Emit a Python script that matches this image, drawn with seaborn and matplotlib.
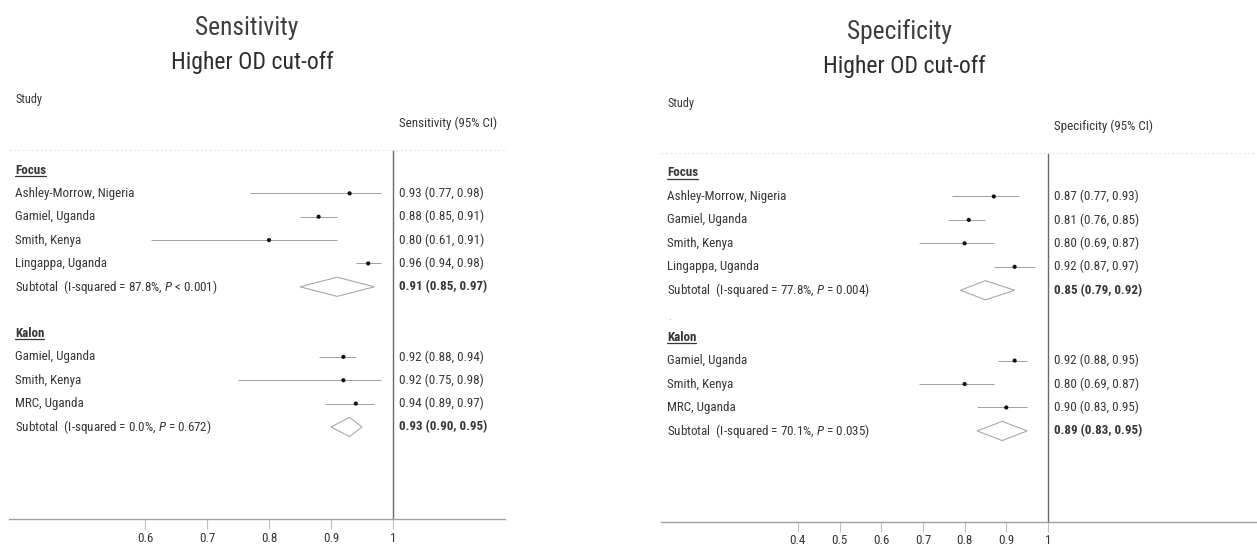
import numpy as np
import pandas as pd
import seaborn as sns
import matplotlib
matplotlib.use("Agg")
import matplotlib.pyplot as plt
from matplotlib import font_manager
from matplotlib.transforms import blended_transform_factory
from matplotlib.lines import Line2D

# ---- data -------------------------------------------------------------
focus_studies = ["Ashley-Morrow, Nigeria", "Gamiel, Uganda", "Smith, Kenya", "Lingappa, Uganda"]
kalon_studies = ["Gamiel, Uganda", "Smith, Kenya", "MRC, Uganda"]

sens_focus_est = [0.93, 0.88, 0.80, 0.96]
sens_focus_lo = [0.77, 0.85, 0.61, 0.94]
sens_focus_hi = [0.98, 0.91, 0.91, 0.98]
sens_focus_sub = [0.91, 0.85, 0.97]
sens_focus_het = ["87.8%", "< 0.001"]

sens_kalon_est = [0.92, 0.92, 0.94]
sens_kalon_lo = [0.88, 0.75, 0.89]
sens_kalon_hi = [0.94, 0.98, 0.97]
sens_kalon_sub = [0.93, 0.90, 0.95]
sens_kalon_het = ["0.0%", "= 0.672"]

spec_focus_est = [0.87, 0.81, 0.80, 0.92]
spec_focus_lo = [0.77, 0.76, 0.69, 0.87]
spec_focus_hi = [0.93, 0.85, 0.87, 0.97]
spec_focus_sub = [0.85, 0.79, 0.92]
spec_focus_het = ["77.8%", "= 0.004"]

spec_kalon_est = [0.92, 0.80, 0.90]
spec_kalon_lo = [0.88, 0.69, 0.83]
spec_kalon_hi = [0.95, 0.87, 0.95]
spec_kalon_sub = [0.89, 0.83, 0.95]
spec_kalon_het = ["70.1%", "= 0.035"]

sens_ticks = [0.6, 0.7, 0.8, 0.9, 1]
spec_ticks = [0.4, 0.5, 0.6, 0.7, 0.8, 0.9, 1]
# -----------------------------------------------------------------------

sns.set_theme(style="white")
installed = {f.name for f in font_manager.fontManager.ttflist}
FONT = "Roboto Condensed" if "Roboto Condensed" in installed else "Liberation Sans"
plt.rcParams["font.family"] = [FONT, "DejaVu Sans"]
plt.rcParams["mathtext.fontset"] = "custom"
plt.rcParams["mathtext.rm"] = FONT
plt.rcParams["mathtext.it"] = FONT + ":italic"
plt.rcParams["mathtext.bf"] = FONT + ":bold"

W, H = 1257, 548
fig = plt.figure(figsize=(W / 100, H / 100), dpi=100)
renderer = fig.canvas.get_renderer()


def fit_size(text, target_px, **kw):
    """Font size (pt) at which `text` spans `target_px` pixels."""
    t = fig.text(0, 0, text, fontsize=10, **kw)
    w = t.get_window_extent(renderer).width
    t.remove()
    return 10 * target_px / w


FS = fit_size("Ashley-Morrow, Nigeria", 118.5)
FS_T1 = fit_size("Sensitivity", 102)
FS_T2 = fit_size("Higher OD cut-off", 162.5)

TXT = "#363636"
LINE = "#a0a0a0"


def fx(x):
    return x / W


def fy(y):
    return 1 - y / H


def build_rows(groups):
    recs = []
    row = 0
    for gname, studies, est, lo, hi, sub, het in groups:
        recs.append(dict(kind="head", label=gname, row=row))
        row += 1
        for s, e, l, h in zip(studies, est, lo, hi):
            recs.append(dict(kind="study", label=s, row=row, est=e, lo=l, hi=h))
            row += 1
        recs.append(dict(kind="sub", label=f"Subtotal  (I-squared = {het[0]}, $P$ {het[1]})",
                         row=row, est=sub[0], lo=sub[1], hi=sub[2]))
        row += 2
    return pd.DataFrame(recs)


def forest(df, lay, ticks, title, col_head, dot_row=False):
    left, right, top, bottom = lay["box"]
    x1, ppu = lay["x1"], lay["ppu"]
    row0, step = lay["row0"], lay["step"]
    ax = fig.add_axes([fx(left), fy(bottom), fx(right - left), (bottom - top) / H])

    studies = df[df.kind == "study"]
    subs = df[df.kind == "sub"]

    ax.hlines(studies.row, studies.lo, studies.hi, color=LINE, lw=0.7, zorder=2)
    sns.scatterplot(data=studies, x="est", y="row", ax=ax, marker="o", s=9,
                    color="#111111", edgecolor="none", legend=False, zorder=3)
    hh = 0.41
    for _, r in subs.iterrows():
        ax.fill([r.lo, r.est, r.hi, r.est], [r.row, r.row - hh, r.row, r.row + hh],
                facecolor="none", edgecolor="#a8a8a8", lw=0.8, zorder=2)

    ax.axvline(1, color="#6a6a6a", lw=1.0, zorder=1)
    ax.set_xlim(1 - (x1 - left) / ppu, 1 + (right - x1) / ppu)
    ax.set_ylim((bottom - row0) / step, (top - row0) / step)
    ax.axhline((top - row0) / step + 0.02, color="#e6e6e6", lw=0.8, ls=(0, (2, 2)))

    for sp in ["left", "right", "top"]:
        ax.spines[sp].set_visible(False)
    ax.spines["bottom"].set_color("#a0a0a0")
    ax.spines["bottom"].set_linewidth(1.0)
    ax.set_xticks(ticks)
    ax.set_xticklabels([f"{t:g}" for t in ticks])
    ax.set_yticks([])
    ax.set_xlabel("")
    ax.set_ylabel("")
    ax.tick_params(axis="x", bottom=True, length=7, width=0.8, color="#c0c0c0",
                   labelsize=FS, labelcolor=TXT, pad=2)

    tr = blended_transform_factory(fig.transFigure, ax.transData)
    heads = []
    for _, r in df.iterrows():
        if r.kind == "head":
            t = ax.text(fx(lay["lab_x"]), r.row, r.label, transform=tr, fontsize=FS,
                        fontweight="bold", color=TXT, va="center", ha="left", clip_on=False)
            heads.append(t)
        else:
            ax.text(fx(lay["lab_x"]), r.row, r.label, transform=tr, fontsize=FS,
                    color=TXT, va="center", ha="left", clip_on=False)
            val = f"{r.est:.2f} ({r.lo:.2f}, {r.hi:.2f})"
            ax.text(fx(lay["val_x"]), r.row, val, transform=tr, fontsize=FS, color=TXT,
                    fontweight="bold" if r.kind == "sub" else "normal",
                    va="center", ha="left", clip_on=False)
    if dot_row:
        ax.text(fx(lay["lab_x"] + 1), df[df.kind == "sub"].row.iloc[0] + 1.15, ".",
                transform=tr, fontsize=FS - 2, color="#888888", va="center", ha="left")

    fig.text(fx(lay["title_x"]), fy(lay["title_y"][0]), title[0], ha="center", va="center",
             fontsize=FS_T1, color="#3e3e3e")
    fig.text(fx(lay["title_x"] + 5), fy(lay["title_y"][1]), title[1], ha="center", va="center",
             fontsize=FS_T2, color="#2e2e2e")
    fig.text(fx(lay["lab_x"]), fy(lay["study_y"]), "Study", ha="left", va="center",
             fontsize=FS - 0.5, color=TXT)
    fig.text(fx(lay["val_x"]), fy(lay["study_y"] + 23), col_head, ha="left", va="center",
             fontsize=FS, color=TXT)
    return heads


sens_df = build_rows([
    ("Focus", focus_studies, sens_focus_est, sens_focus_lo, sens_focus_hi, sens_focus_sub, sens_focus_het),
    ("Kalon", kalon_studies, sens_kalon_est, sens_kalon_lo, sens_kalon_hi, sens_kalon_sub, sens_kalon_het),
])
spec_df = build_rows([
    ("Focus", focus_studies, spec_focus_est, spec_focus_lo, spec_focus_hi, spec_focus_sub, spec_focus_het),
    ("Kalon", kalon_studies, spec_kalon_est, spec_kalon_lo, spec_kalon_hi, spec_kalon_sub, spec_kalon_het),
])

left_layout = dict(box=(9, 505, 150, 519), x1=393, ppu=620, row0=170, step=23.36,
                   lab_x=15, val_x=399, title_x=247, title_y=(28, 63), study_y=100)
right_layout = dict(box=(661, 1257, 153, 522), x1=1048, ppu=417, row0=173, step=23.45,
                    lab_x=667, val_x=1054, title_x=899, title_y=(32, 66), study_y=103)

heads = forest(sens_df, left_layout, sens_ticks, ("Sensitivity", "Higher OD cut-off"),
               "Sensitivity (95% CI)")
heads += forest(spec_df, right_layout, spec_ticks, ("Specificity", "Higher OD cut-off"),
                "Specificity (95% CI)", dot_row=True)

# underline the group headings
fig.canvas.draw()
inv = fig.transFigure.inverted()
for t in heads:
    bb = t.get_window_extent()
    (x0, y0), (x1_, _) = inv.transform([(bb.x0, bb.y0 + 1.0), (bb.x1, bb.y0 + 1.0)])
    fig.add_artist(Line2D([x0, x1_], [y0, y0], color=TXT, lw=0.9, transform=fig.transFigure))

fig.savefig("out.png", dpi=100)
